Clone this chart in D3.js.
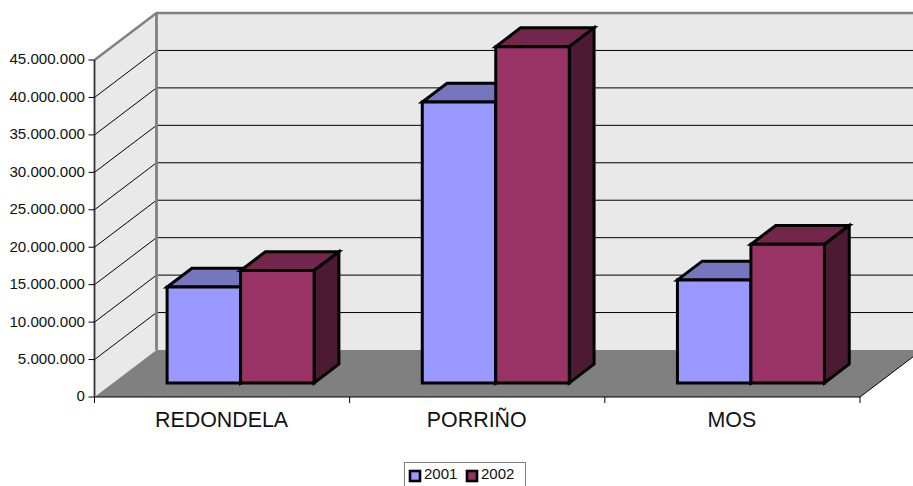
<!DOCTYPE html>
<html><head><meta charset="utf-8">
<script src="https://cdnjs.cloudflare.com/ajax/libs/d3/7.8.5/d3.min.js"></script>
<style>html,body{margin:0;padding:0;background:#fff;overflow:hidden}svg{display:block}text{font-family:"Liberation Sans",Arial,sans-serif;fill:#111}</style>
</head><body><svg id="c" width="913" height="486"></svg>
<script>
const categories = ["REDONDELA", "PORRIÑO", "MOS"];
const seriesNames = ["2001", "2002"];
const values2001 = [12800000, 37500000, 13750000];
const values2002 = [15000000, 44900000, 18500000];
const yTicks = [0,5000000,10000000,15000000,20000000,25000000,30000000,35000000,40000000,45000000];
const tickLabels = ["0","5.000.000","10.000.000","15.000.000","20.000.000","25.000.000","30.000.000","35.000.000","40.000.000","45.000.000"];
const frontColors = ["#9999FF","#993366"];
const topColors = ["#7676BF","#72264C"];
const sideColors = ["#4D4D80","#4D1A33"];

const svg = d3.select("#c");
const x = d3.scaleBand().domain(categories).range([94.5,860]).paddingInner(0);
const xInner = d3.scaleBand().domain(seriesNames).range([54,201]);
const y = d3.scaleLinear().domain([0,45000000]).range([397,60]);
const DX = 62, DY = -47;
const P = (px,v,z)=>[px+DX*z, y(v)+DY*z];
const poly = pts => "M"+pts.map(p=>p.join(",")).join("L")+"Z";
const line = pts => "M"+pts.map(p=>p.join(",")).join("L");
const X0 = x.range()[0], X1 = x.range()[1], YMAX = y.domain()[1];

// walls
svg.append("path").attr("d",poly([P(X0,0,0),P(X0,0,1),P(X0,YMAX,1),P(X0,YMAX,0)])).attr("fill","#E9E9E9");
svg.append("path").attr("d",poly([P(X0,0,1),P(X1,0,1),P(X1,YMAX,1),P(X0,YMAX,1)])).attr("fill","#E9E9E9");
// floor
svg.append("path").attr("d",poly([P(X0,0,0),P(X1,0,0),P(X1,0,1),P(X0,0,1)])).attr("fill","#808080");
// gridlines
yTicks.filter(t=>t>0 && t<YMAX).forEach(t=>{
  svg.append("path").attr("d",line([P(X0,t,0),P(X0,t,1),P(X1,t,1)])).attr("fill","none").attr("stroke","#000").attr("stroke-width",1);
});
// wall edges
svg.append("path").attr("d",line([P(X0,YMAX,0),P(X0,YMAX,1),P(X1,YMAX,1)])).attr("fill","none").attr("stroke","#808080").attr("stroke-width",2.4);
svg.append("path").attr("d",line([P(X0,YMAX,1),P(X0,0,1)])).attr("fill","none").attr("stroke","#808080").attr("stroke-width",2.8);
// floor edges
svg.append("path").attr("d",line([P(X0,0,0),P(X1,0,0),P(X1,0,1)])).attr("fill","none").attr("stroke","#000").attr("stroke-width",1);
svg.append("path").attr("d",line([P(X0,0,0),P(X0,YMAX,0)])).attr("fill","none").attr("stroke","#333").attr("stroke-width",1.8);

// y axis
const yG = svg.append("g");
yTicks.forEach((t,i)=>{
  yG.append("line").attr("x1",X0-6).attr("x2",X0).attr("y1",y(t)).attr("y2",y(t)).attr("stroke","#000");
  yG.append("text").attr("x",85).attr("y",y(t)-1).attr("dy","0.36em").attr("text-anchor","end").attr("font-size",15.1).text(tickLabels[i]);
});
// x axis
[X0,...categories.map(c=>x(c)+x.bandwidth())].forEach(px=>{
  svg.append("line").attr("x1",px).attr("x2",px).attr("y1",397).attr("y2",403).attr("stroke","#000");
});
categories.forEach(c=>{
  svg.append("text").attr("x",x(c)+x.bandwidth()/2-0.5).attr("y",427).attr("text-anchor","middle").attr("font-size",21.4).text(c);
});

// bars
const zA=0.3, zB=0.7;
categories.forEach((c,ci)=>{
  [values2001,values2002].forEach((vals,si)=>{
    const l=x(c)+xInner(seriesNames[si]), r=l+xInner.bandwidth(), v=vals[ci];
    const g=svg.append("g").attr("stroke","#000").attr("stroke-width",3).attr("stroke-linejoin","miter");
    g.append("path").attr("d",poly([P(l,v,zA),P(r,v,zA),P(r,v,zB),P(l,v,zB)])).attr("fill",topColors[si]);
    g.append("path").attr("d",poly([P(r,0,zA),P(r,v,zA),P(r,v,zB),P(r,0,zB)])).attr("fill",sideColors[si]);
    g.append("path").attr("d",poly([P(l,0,zA),P(r,0,zA),P(r,v,zA),P(l,v,zA)])).attr("fill",frontColors[si]);
  });
});

// legend
const lg=svg.append("g");
lg.append("rect").attr("x",404.5).attr("y",462.5).attr("width",121).attr("height",30).attr("fill","#fff").attr("stroke","#808080").attr("stroke-width",1);
seriesNames.forEach((s,i)=>{
  const lx=410+i*57;
  lg.append("rect").attr("x",lx).attr("y",471).attr("width",10).attr("height",10).attr("fill",frontColors[i]).attr("stroke","#000").attr("stroke-width",2.6);
  lg.append("text").attr("x",lx+14).attr("y",479).attr("font-size",15).text(s);
});
</script></body></html>
